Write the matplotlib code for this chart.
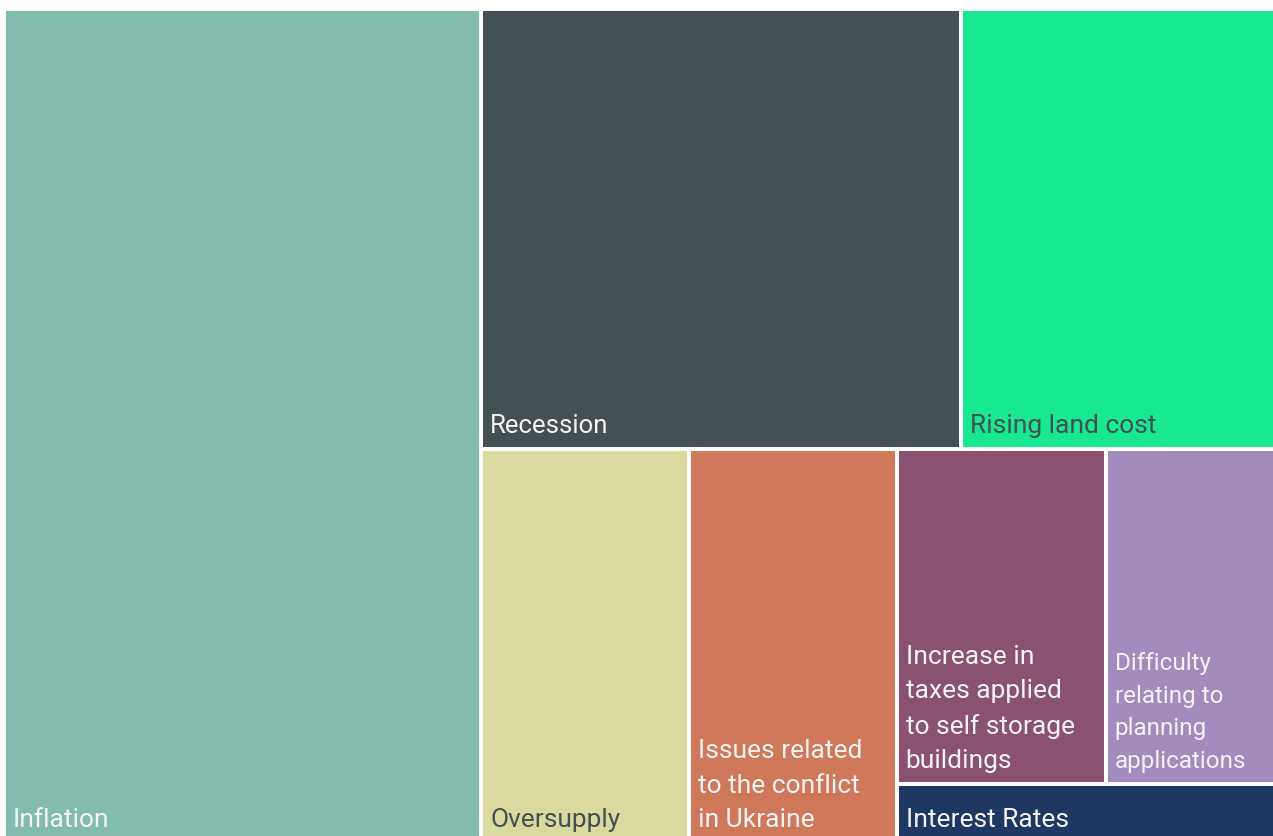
import matplotlib
matplotlib.use("Agg")
import matplotlib.pyplot as plt
from matplotlib.patches import Rectangle

# values (share of answers, %)
labels = ["Inflation", "Recession", "Rising land cost", "Oversupply",
          "Issues related\nto the conflict\nin Ukraine",
          "Increase in\ntaxes applied\nto self storage\nbuildings",
          "Difficulty\nrelating to\nplanning\napplications",
          "Interest Rates"]
values = [37.5, 19.9, 13.1, 7.7, 7.7, 6.6, 5.4, 2.1]
colors = ["#82bcae", "#435155", "#18e890", "#dad99e",
          "#d0785a", "#8a5170", "#a38abf", "#1f3763"]
text_colors = ["#f4f4f4", "#f4f4f4", "#435155", "#435155",
               "#f4f4f4", "#f4f4f4", "#f4f4f4", "#f4f4f4"]
font_sizes = [19, 18.5, 19, 19, 19, 19, 17.5, 19]


def worst(row, side):
    s = sum(row)
    return max(max(side * side * r / (s * s), s * s / (side * side * r)) for r in row)


def squarify(areas, x, y, w, h):
    # plain squarified treemap, returns list of (x, y, w, h)
    rects = []
    areas = list(areas)
    while areas:
        side = min(w, h)
        row = [areas.pop(0)]
        while areas and worst(row + [areas[0]], side) <= worst(row, side):
            row.append(areas.pop(0))
        s = sum(row)
        if w >= h:
            # column on the left
            cw = s / h if areas else w
            cy = y
            for r in row:
                rh = r / cw
                rects.append((x, cy, cw, rh))
                cy += rh
            x += cw
            w -= cw
        else:
            # row along the top
            rh = s / w if areas else h
            cx = x
            for r in row:
                rw = r / rh
                rects.append((cx, y, rw, rh))
                cx += rw
            y += rh
            h -= rh
    return rects


X0, Y0, W, H = 4, 9, 1273, 834
total = sum(values)
areas = [v / total * W * H for v in values]
rects = squarify(areas, X0, Y0, W, H)

fig = plt.figure(figsize=(12.73, 8.36), dpi=100)
ax = fig.add_axes([0, 0, 1, 1])
ax.set_xlim(0, 1273)
ax.set_ylim(836, 0)
ax.axis("off")

pad = 2
for (rx, ry, rw, rh), lab, c, tc, fs in zip(rects, labels, colors, text_colors, font_sizes):
    ax.add_patch(Rectangle((rx + pad, ry + pad), rw - 2 * pad, rh - 2 * pad,
                           facecolor=c, edgecolor="none"))
    ax.text(rx + pad + 7, ry + rh - pad - 9, lab, color=tc, fontsize=fs,
            family="Roboto", ha="left", va="bottom", linespacing=1.55)

fig.savefig("out.png", dpi=100)
